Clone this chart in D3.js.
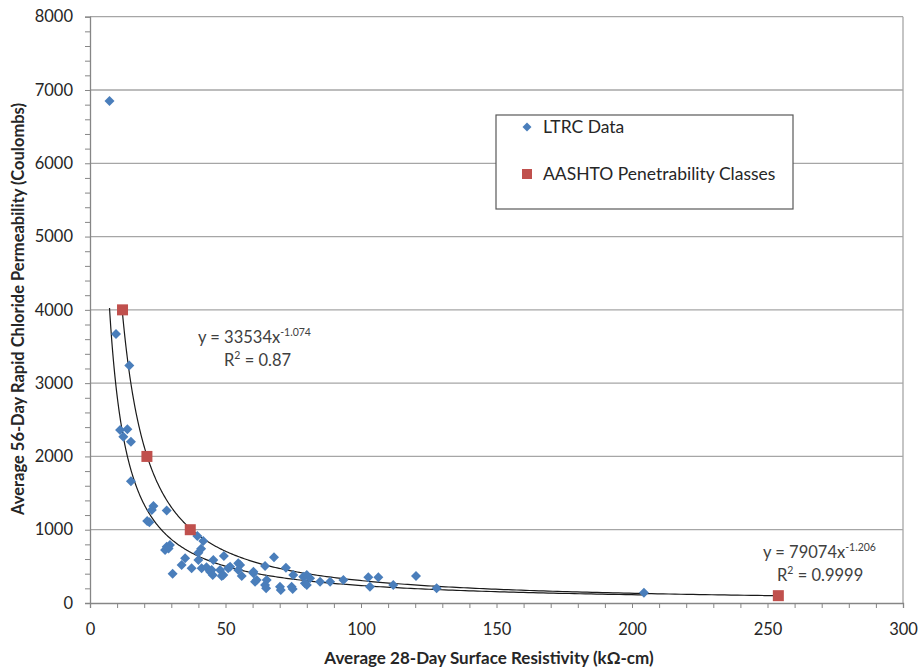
<!DOCTYPE html>
<html>
<head>
<meta charset="utf-8">
<script src="https://cdn.jsdelivr.net/npm/d3@7"></script>
<style>
  html, body { margin: 0; padding: 0; background: #fff; }
  svg { display: block; font-family: Lato, "Open Sans", sans-serif; }
</style>
</head>
<body>
<svg id="chart" width="920" height="671"></svg>
<script>
// ---- Data ----
const ltrcX = [7.2, 9.6, 14.5, 11.1, 13.8, 12.3, 15.1, 15.1,
  23.4, 22.8, 28.3, 21.9, 21.1,
  28.3, 27.7, 29.5, 29.0, 39.6, 41.8, 41.0, 40.0,
  35.1, 33.8, 30.5, 37.5, 40.0, 41.2, 43.0,
  45.5, 44.9, 45.3, 49.4, 48.0, 49.2, 51.0, 54.7, 48.6, 44.3,
  55.4, 56.0, 54.7, 51.7, 60.3, 61.5, 60.9, 60.3, 64.6, 65.2, 64.6, 65.0,
  67.9, 70.1, 70.4, 72.3, 74.4, 74.8, 75.0,
  78.7, 80.0, 79.3, 80.0, 81.2, 84.9, 88.6, 93.5,
  102.7, 103.3, 106.4, 111.9, 120.3, 127.9, 204.4];
const ltrcY = [6850, 3670, 3240, 2360, 2370, 2270, 2200, 1660,
  1323, 1270, 1262, 1101, 1120,
  768, 723, 791, 745, 914, 845, 740, 686,
  610, 518, 400, 473, 587, 473, 487,
  587, 450, 382, 641, 450, 382, 473, 541, 368, 427,
  518, 368, 450, 495, 405, 314, 291, 427, 505, 314, 246, 200,
  623, 222, 177, 482, 222, 191, 382,
  359, 382, 268, 246, 337, 291, 291, 314,
  350, 222, 350, 246, 368, 200, 141];
const aashtoX = [12, 21, 37, 254];
const aashtoY = [4000, 2000, 1000, 100];
const fitLtrc = { a: 33534, b: -1.074, from: 7.2, to: 204.4 };
const fitAashto = { a: 79074, b: -1.206, from: 12, to: 254 };
const xTicks = [0, 50, 100, 150, 200, 250, 300];
const yTicks = [0, 1000, 2000, 3000, 4000, 5000, 6000, 7000, 8000];
const xTitle = "Average 28-Day Surface Resistivity (kΩ-cm)";
const yTitle = "Average 56-Day Rapid Chloride Permeability (Coulombs)";
const legendLabels = ["LTRC Data", "AASHTO Penetrability Classes"];

// ---- Layout ----
const W = 920, H = 671;
const m = { left: 90, right: 17, top: 16.7, bottom: 68 };
const svg = d3.select("#chart");
const x = d3.scaleLinear().domain([0, 300]).range([m.left, W - m.right]);
const y = d3.scaleLinear().domain([0, 8000]).range([H - m.bottom, m.top]);

const textCol = "#262626";
const gridCol = "#a6a6a6";
const axisCol = "#868686";

// gridlines
svg.append("g").selectAll("line").data(yTicks.filter(d => d > 0)).join("line")
  .attr("x1", x(0)).attr("x2", x(300))
  .attr("y1", d => y(d)).attr("y2", d => y(d))
  .attr("stroke", gridCol).attr("stroke-width", 1.3);
// right border
svg.append("line").attr("x1", x(300)).attr("x2", x(300))
  .attr("y1", y(0)).attr("y2", y(8000)).attr("stroke", gridCol).attr("stroke-width", 1.3);

// y axis with minor ticks
const yMinor = d3.range(0, 8001, 200);
const gy = svg.append("g").attr("transform", `translate(${x(0)},0)`)
  .call(d3.axisLeft(y).tickValues(yMinor).tickSize(5).tickFormat(d => yTicks.includes(d) ? d : ""));
gy.selectAll("line, path").attr("stroke", axisCol);
gy.select(".domain").attr("stroke-width", 1.3);
gy.selectAll("text").attr("font-size", 16.5).attr("fill", textCol)
  .attr("font-family", "Lato, sans-serif").attr("x", -17);

// x axis with minor ticks
const xMinor = d3.range(0, 301, 10);
const gx = svg.append("g").attr("transform", `translate(0,${y(0)})`)
  .call(d3.axisBottom(x).tickValues(xMinor).tickSize(5).tickFormat(d => xTicks.includes(d) ? d : ""));
gx.selectAll("line, path").attr("stroke", axisCol);
gx.select(".domain").attr("stroke-width", 1.3);
gx.selectAll("text").attr("font-size", 16.5).attr("fill", textCol)
  .attr("font-family", "Lato, sans-serif").attr("y", 20);

// axis titles
svg.append("text").attr("x", 489).attr("y", 664)
  .attr("text-anchor", "middle").attr("font-weight", "bold").attr("font-size", 17)
  .attr("fill", textCol).text(xTitle);
svg.append("text").attr("transform", `translate(24,309) rotate(-90)`)
  .attr("text-anchor", "middle").attr("font-weight", "bold").attr("font-size", 16.5)
  .attr("fill", textCol).text(yTitle);

// fit curves
function curvePts(f) {
  const n = 300, pts = [];
  for (let i = 0; i <= n; i++) {
    const xv = f.from * Math.pow(f.to / f.from, i / n);
    pts.push([xv, f.a * Math.pow(xv, f.b)]);
  }
  return pts;
}
const line = d3.line().x(d => x(d[0])).y(d => y(d[1]));
[fitLtrc, fitAashto].forEach(f => {
  svg.append("path").attr("d", line(curvePts(f))).attr("fill", "none")
    .attr("stroke", "#1a1a1a").attr("stroke-width", 1.2);
});

// markers
const blue = "#4a7ebb", red = "#c0504d";
const ltrc = ltrcX.map((v, i) => [v, ltrcY[i]]);
svg.append("g").selectAll("path").data(ltrc).join("path")
  .attr("d", d3.symbol().type(d3.symbolSquare).size(50))
  .attr("transform", d => `translate(${x(d[0])},${y(d[1])}) rotate(45)`)
  .attr("fill", blue);
const aas = aashtoX.map((v, i) => [v, aashtoY[i]]);
svg.append("g").selectAll("rect").data(aas).join("rect")
  .attr("x", d => x(d[0]) - 5.5).attr("y", d => y(d[1]) - 5.5)
  .attr("width", 11).attr("height", 11).attr("fill", red);

// legend
const lg = svg.append("g");
lg.append("rect").attr("x", 496).attr("y", 115).attr("width", 297).attr("height", 94)
  .attr("fill", "#fff").attr("stroke", "#595959").attr("stroke-width", 1.2);
lg.append("path").attr("d", d3.symbol().type(d3.symbolSquare).size(40))
  .attr("transform", "translate(527,127) rotate(45)").attr("fill", blue);
lg.append("rect").attr("x", 522).attr("y", 169).attr("width", 10).attr("height", 10).attr("fill", red);
lg.selectAll("text").data(legendLabels).join("text")
  .attr("x", 543).attr("y", (d, i) => 133 + i * 47)
  .attr("font-size", 17.5).attr("fill", textCol).text(d => d);

// trendline equations
function eq(xp, yp, a, b, r2, xr) {
  const t = svg.append("text").attr("x", xp).attr("y", yp)
    .attr("font-size", 16.5).attr("fill", "#404040");
  t.append("tspan").text("y = " + a + "x");
  t.append("tspan").attr("dy", -7).attr("font-size", 10.5).text(b);
  const t2 = svg.append("text").attr("x", xr).attr("y", yp + 23)
    .attr("font-size", 16.5).attr("fill", "#404040");
  t2.append("tspan").text("R");
  t2.append("tspan").attr("dy", -7).attr("font-size", 10.5).text("2");
  t2.append("tspan").attr("dy", 7).text(" = " + r2);
}
eq(198, 343, "33534", fitLtrc.b.toFixed(3), "0.87", 224);
eq(763, 558, "79074", fitAashto.b.toFixed(3), "0.9999", 777);
</script>
</body>
</html>
